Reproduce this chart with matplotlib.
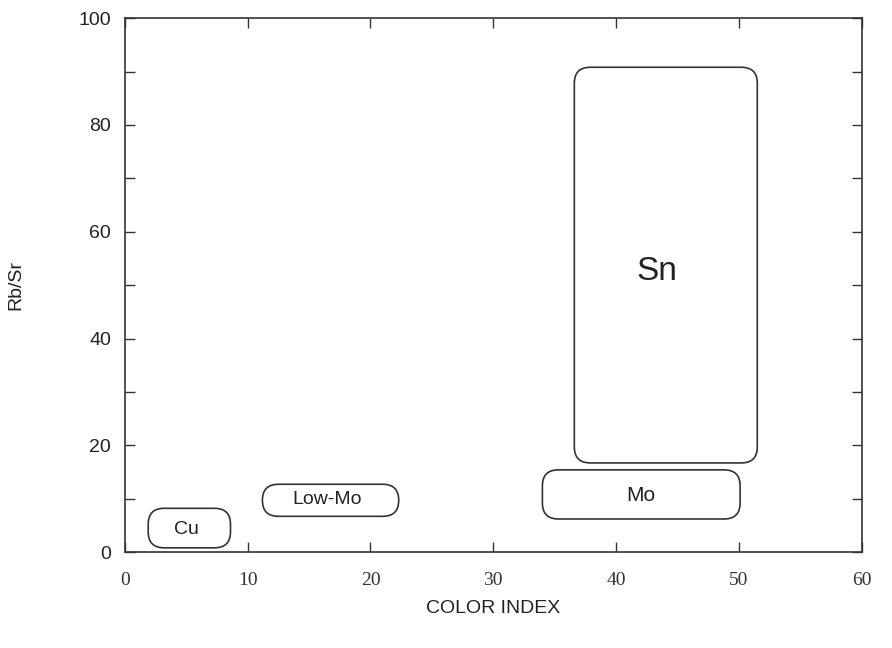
import matplotlib.pyplot as plt
from matplotlib.patches import FancyBboxPatch

# поля на диаграмме (границы в единицах осей)
names = ['Cu', 'Low-Mo', 'Mo', 'Sn']
x_left = [1.9, 11.2, 34.0, 36.6]
x_right = [8.6, 22.3, 50.1, 51.5]
y_bottom = [0.8, 6.7, 6.2, 16.7]
y_top = [8.2, 12.7, 15.4, 90.8]
lab_x = [5.0, 16.5, 42.0, 43.3]
lab_y = [4.3, 9.9, 10.6, 52.5]
lab_size = [14, 14, 15, 24]
rnd = [1.3, 1.3, 1.3, 1.3]

xticks = [0, 10, 20, 30, 40, 50, 60]
yticks = [0, 20, 40, 60, 80, 100]

fig = plt.figure(figsize=(8.92, 6.48), dpi=100)
ax = fig.add_axes([0.140, 0.148, 0.826, 0.824])
ax.set_xlim(0, 60)
ax.set_ylim(0, 100)

# соотношение масштабов осей, чтобы углы были круглыми
asp = (0.826 * 8.92 / 60) / (0.824 * 6.48 / 100)

lc = '#333333'
for i in range(len(names)):
    w = x_right[i] - x_left[i]
    h = y_top[i] - y_bottom[i]
    box = FancyBboxPatch((x_left[i], y_bottom[i]), w, h,
                         boxstyle='round,pad=0,rounding_size=%s' % rnd[i],
                         mutation_aspect=asp,
                         fill=False, edgecolor=lc, linewidth=1.2)
    ax.add_patch(box)
    ax.text(lab_x[i], lab_y[i], names[i], ha='center', va='center',
            fontsize=lab_size[i], color='#222222', family='Liberation Sans')

ax.set_xticks(xticks)
ax.set_xticklabels([str(v) for v in xticks], family='Liberation Serif', fontsize=14, color='#333333')
ax.set_yticks(yticks)
ax.set_yticklabels([str(v) for v in yticks], family='Liberation Sans', fontsize=14, color='#222222')
ax.set_xticks(range(0, 61, 10), minor=True)
ax.set_yticks(range(0, 101, 10), minor=True)
ax.tick_params(which='both', direction='in', top=True, right=True, color=lc, width=1.0)
ax.tick_params(which='major', length=7, pad=10)
ax.tick_params(which='minor', length=7)
ax.tick_params(axis='x', which='major', pad=14)

for s in ax.spines.values():
    s.set_color(lc)
    s.set_linewidth(1.2)

ax.set_xlabel('COLOR INDEX', family='Liberation Sans', fontsize=14, labelpad=8, color='#222222')
ax.set_ylabel('Rb/Sr', family='Liberation Sans', fontsize=14, labelpad=39, color='#222222')

plt.savefig('out.png', dpi=100)
